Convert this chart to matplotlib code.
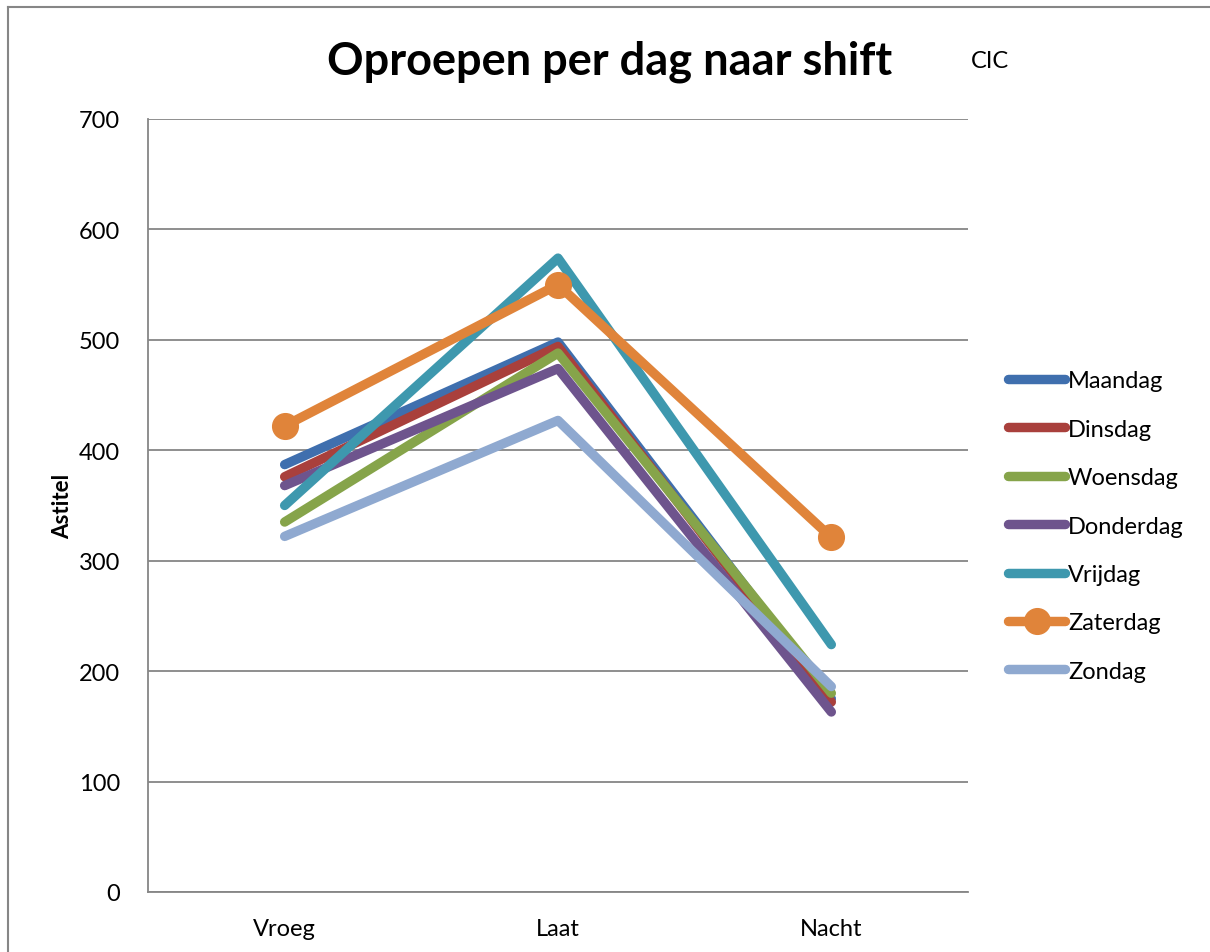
import matplotlib
matplotlib.use("Agg")
import matplotlib.pyplot as plt
from matplotlib.lines import Line2D

plt.rcParams['font.family'] = ['Lato', 'DejaVu Sans']

shifts = ['Vroeg', 'Laat', 'Nacht']
days = ['Maandag', 'Dinsdag', 'Woensdag', 'Donderdag', 'Vrijdag', 'Zaterdag', 'Zondag']

maandag = [387, 498, 175]
dinsdag = [376, 494, 172]
woensdag = [335, 488, 180]
donderdag = [368, 474, 163]
vrijdag = [350, 574, 224]
zaterdag = [422, 550, 321]
zondag = [322, 427, 186]

series = [maandag, dinsdag, woensdag, donderdag, vrijdag, zaterdag, zondag]
colors = ['#3F6FAE', '#A9403C', '#86A44A', '#6E548D', '#3E98AE', '#E0843A', '#8FA9D0']

fig = plt.figure(figsize=(12.1, 9.53), dpi=100)
ax = fig.add_axes([0.1223, 0.063, 0.6777, 0.8111])

x = list(range(len(shifts)))
# later series sit on top, as in the original
for name, vals, c in zip(days, series, colors):
    if name == 'Zaterdag':
        ax.plot(x, vals, color=c, lw=6.8, marker='o', ms=18.5,
                solid_capstyle='round', label=name)
    else:
        ax.plot(x, vals, color=c, lw=6.8, solid_capstyle='round', label=name)

ax.set_xlim(-0.5, 2.5)
ax.set_ylim(0, 700)
ax.set_yticks(range(0, 701, 100))
ax.set_xticks(x)
ax.set_xticklabels(shifts)
ax.tick_params(length=0, labelsize=17, colors='black')
ax.tick_params(axis='y', pad=20)
ax.tick_params(axis='x', pad=19)
ax.grid(axis='y', color='#868686', lw=1.3)
ax.set_axisbelow(True)
for s in ['top', 'right']:
    ax.spines[s].set_visible(False)
for s in ['left', 'bottom']:
    ax.spines[s].set_color('#868686')
    ax.spines[s].set_linewidth(1.3)

ax.set_ylabel('Astitel', fontsize=16, fontweight='bold', labelpad=4)

fig.text(0.504, 0.935, 'Oproepen per dag naar shift', fontsize=32.5,
         fontweight='bold', ha='center', va='center')
fig.text(0.818, 0.935, 'CIC', fontsize=17, ha='center', va='center')

leg = ax.legend(loc='center left', bbox_to_anchor=(0.823, 0.447),
                bbox_transform=fig.transFigure, frameon=False, fontsize=17,
                handlelength=2.45, handletextpad=0.1, labelspacing=1.16,
                borderpad=0, markerscale=1.0)

# outer chart border (top and left only visible in the crop)
fig.add_artist(Line2D([8 / 1210, 1.0], [1 - 8 / 953, 1 - 8 / 953],
                      transform=fig.transFigure, color='#868686', lw=1.5))
fig.add_artist(Line2D([8 / 1210, 8 / 1210], [0.0, 1 - 8 / 953],
                      transform=fig.transFigure, color='#868686', lw=1.5))

fig.savefig('out.png', dpi=100)
